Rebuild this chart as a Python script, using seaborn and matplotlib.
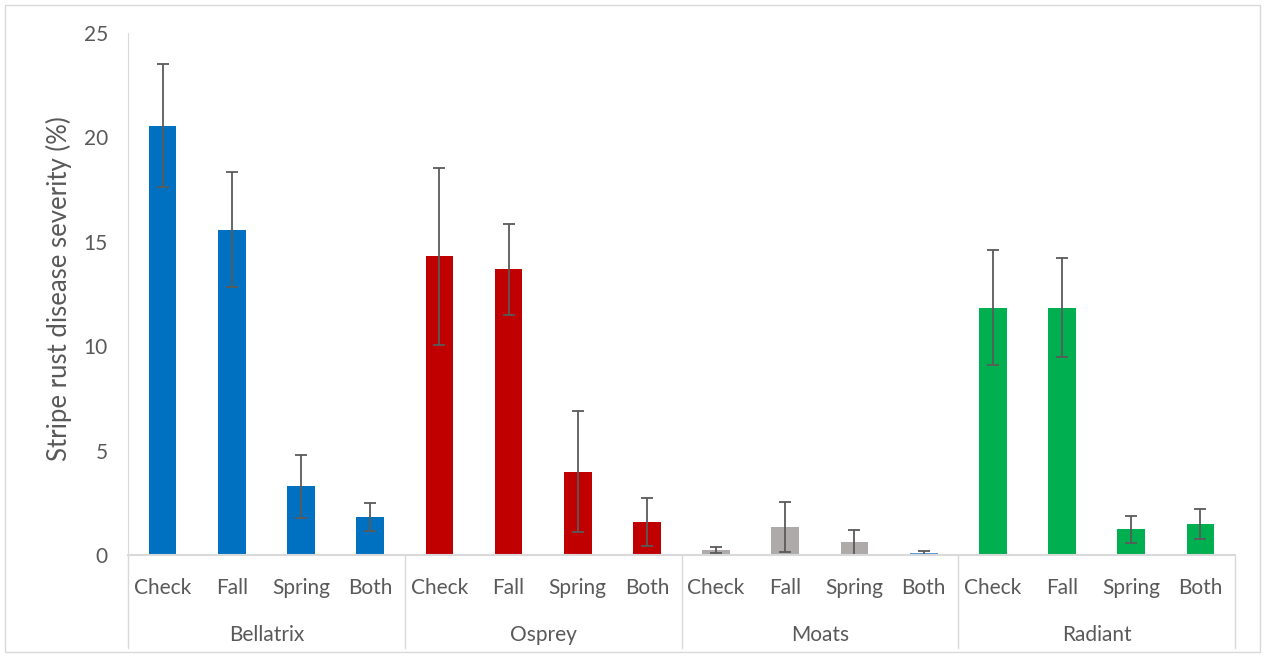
import matplotlib
matplotlib.use("Agg")
import matplotlib.pyplot as plt
import matplotlib.transforms as mtransforms
from matplotlib.patches import Rectangle
import numpy as np
import pandas as pd
import seaborn as sns

cultivars = ["Bellatrix", "Osprey", "Moats", "Radiant"]
treatments = ["Check", "Fall", "Spring", "Both"]

# mean severity (%) per cultivar, in treatment order
bellatrix = [20.56, 15.58, 3.29, 1.83]
osprey = [14.30, 13.68, 3.99, 1.58]
moats = [0.24, 1.34, 0.61, 0.11]
radiant = [11.84, 11.84, 1.23, 1.48]

# error bar half-lengths
bellatrix_err = [2.95, 2.75, 1.50, 0.66]
osprey_err = [4.25, 2.17, 2.90, 1.14]
moats_err = [0.15, 1.20, 0.60, 0.09]
radiant_err = [2.76, 2.36, 0.65, 0.73]

bar_colors = ["#0070C0"] * 4 + ["#C00000"] * 4 + ["#AEAAAA"] * 3 + ["#5B9BD5"] + ["#00B050"] * 4

sns.set_style("white")
plt.rcParams['font.family'] = ['Lato', 'DejaVu Sans']

rows = []
for cv, vals, errs in zip(cultivars, [bellatrix, osprey, moats, radiant],
                          [bellatrix_err, osprey_err, moats_err, radiant_err]):
    for tr, v, e in zip(treatments, vals, errs):
        rows.append({"bar": cv + " " + tr, "cultivar": cv, "treatment": tr,
                     "severity": v, "err": e})
df = pd.DataFrame(rows)
order = list(df["bar"])

fig = plt.figure(figsize=(12.65, 6.57), dpi=100)
ax = fig.add_axes([0.1012, 0.1553, 0.8751, 0.7945])

sns.barplot(data=df, x="bar", y="severity", hue="bar", order=order, hue_order=order,
            palette=bar_colors, width=0.4, saturation=1, errorbar=None,
            legend=False, ax=ax, linewidth=0)
ax.errorbar(np.arange(len(df)), df["severity"], yerr=df["err"], fmt="none",
            ecolor="#5A5A5A", elinewidth=1.3, capsize=4.5, capthick=1.3)

ax.set_xlim(-0.5, len(df) - 0.5)
ax.set_ylim(0, 25)
ax.set_yticks([0, 5, 10, 15, 20, 25])
ax.set_xticks(np.arange(len(df)))
ax.set_xticklabels(df["treatment"])
ax.tick_params(axis="both", length=0, labelsize=15, colors="#595959")
ax.tick_params(axis="x", pad=16.5)
ax.tick_params(axis="y", pad=14.5)
ax.set_xlabel("")
ax.set_ylabel("Stripe rust disease severity (%)", fontsize=18.5, color="#595959")
ax.yaxis.set_label_coords(-0.051, 0.51)

for s in ["top", "right"]:
    ax.spines[s].set_visible(False)
ax.spines["left"].set_color("#D9D9D9")
ax.spines["bottom"].set_color("#D9D9D9")
ax.spines["bottom"].set_linewidth(1.5)

# two-level category axis: separators and cultivar labels
trans = mtransforms.blended_transform_factory(ax.transData, ax.transAxes)
for b in np.arange(-0.5, len(df), 4):
    ax.plot([b, b], [0, -0.178], transform=trans, color="#D9D9D9", lw=1, clip_on=False)
for i, cv in enumerate(cultivars):
    ax.text(i * 4 + 1.5, -0.154, cv, transform=trans, ha="center", va="center",
            fontsize=15, color="#595959")

fig.patches.append(Rectangle((0.004, 0.007), 0.992, 0.986, transform=fig.transFigure,
                             fill=False, edgecolor="#D9D9D9", lw=1))

fig.savefig("out.png", dpi=100)
